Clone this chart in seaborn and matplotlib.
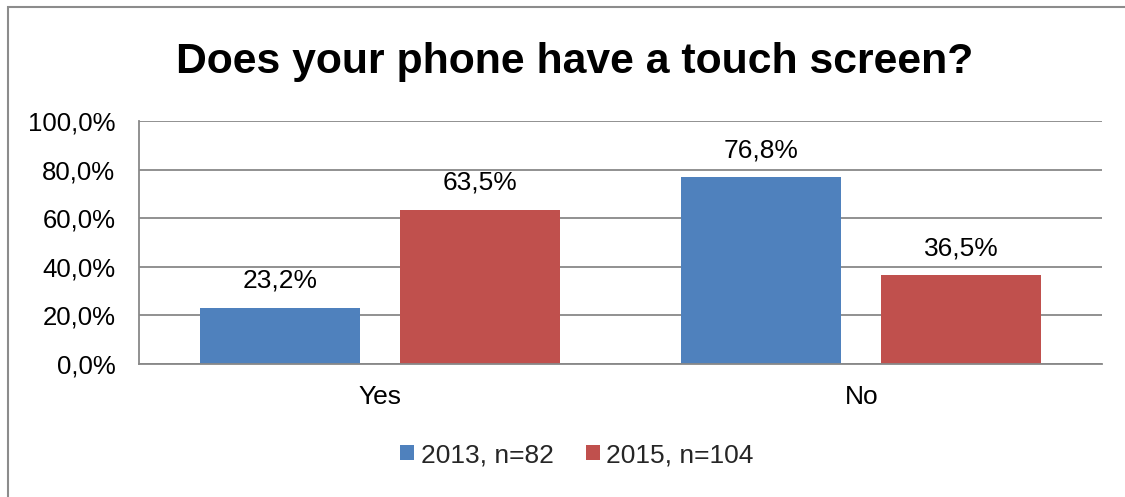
import matplotlib
matplotlib.use("Agg")
import matplotlib.pyplot as plt
from matplotlib.patches import Rectangle
from matplotlib.ticker import FuncFormatter
import seaborn as sns
import pandas as pd

# Survey answers: share of respondents per answer, per survey year
answers = ["Yes", "No"]
series_names = ["2013, n=82", "2015, n=104"]
values_2013 = [23.2, 76.8]
values_2015 = [63.5, 36.5]
y_ticks = [0, 20, 40, 60, 80, 100]
title = "Does your phone have a touch screen?"

colors = ["#4F81BD", "#C0504D"]
grid_grey = "#888888"

df = pd.DataFrame({
    "answer": answers * 2,
    "series": [series_names[0]] * len(answers) + [series_names[1]] * len(answers),
    "value": values_2013 + values_2015,
})

sns.set_theme(style="white")
plt.rcParams["font.family"] = ["Liberation Sans", "DejaVu Sans"]

fig = plt.figure(figsize=(11.25, 4.97), dpi=100)
ax = fig.add_axes([0.1236, 0.2676, 0.8560, 0.4889])

sns.barplot(data=df, x="answer", y="value", hue="series", order=answers,
            hue_order=series_names, palette=colors, width=0.831, gap=0.2,
            saturation=1, linewidth=0, ax=ax, legend=True)

ax.set_xlim(-0.5, len(answers) - 0.5)
ax.set_ylim(0, 100)
ax.set_yticks(y_ticks)
ax.yaxis.set_major_formatter(FuncFormatter(lambda v, _: f"{v:.1f}%".replace(".", ",")))
ax.yaxis.grid(True, color=grid_grey, linewidth=1.3)
ax.set_axisbelow(True)
ax.set_xlabel("")
ax.set_ylabel("")

for side in ["top", "right"]:
    ax.spines[side].set_visible(False)
for side in ["left", "bottom"]:
    ax.spines[side].set_color(grid_grey)
    ax.spines[side].set_linewidth(1.3)

ax.tick_params(axis="y", length=0, pad=17, labelsize=18.5, labelcolor="black")
ax.tick_params(axis="x", length=0, pad=15, labelsize=19, labelcolor="black")

# value labels above each bar
for container, vals in zip(ax.containers, [values_2013, values_2015]):
    ax.bar_label(container, labels=[f"{v:.1f}%".replace(".", ",") for v in vals],
                 padding=11, fontsize=19, color="black")

handles, labels = ax.get_legend_handles_labels()
ax.legend_.remove()
fig.legend(handles, labels, loc="center", bbox_to_anchor=(577 / 1125, 1 - 455 / 497),
           ncol=2, frameon=False, fontsize=19, handlelength=0.53, handleheight=0.53,
           handletextpad=0.25, columnspacing=1.2)

fig.text(575 / 1125, 1 - 62 / 497, title, ha="center", va="center",
         fontsize=30.8, fontweight="bold", color="black")

# chart frame (left and top edges within view)
fig.patches.append(Rectangle((8 / 1125, -0.1), 1.2, 1 - 7 / 497 + 0.1,
                             transform=fig.transFigure, fill=False,
                             edgecolor="#8c8c8c", linewidth=1.5))

fig.savefig("out.png", dpi=100)
